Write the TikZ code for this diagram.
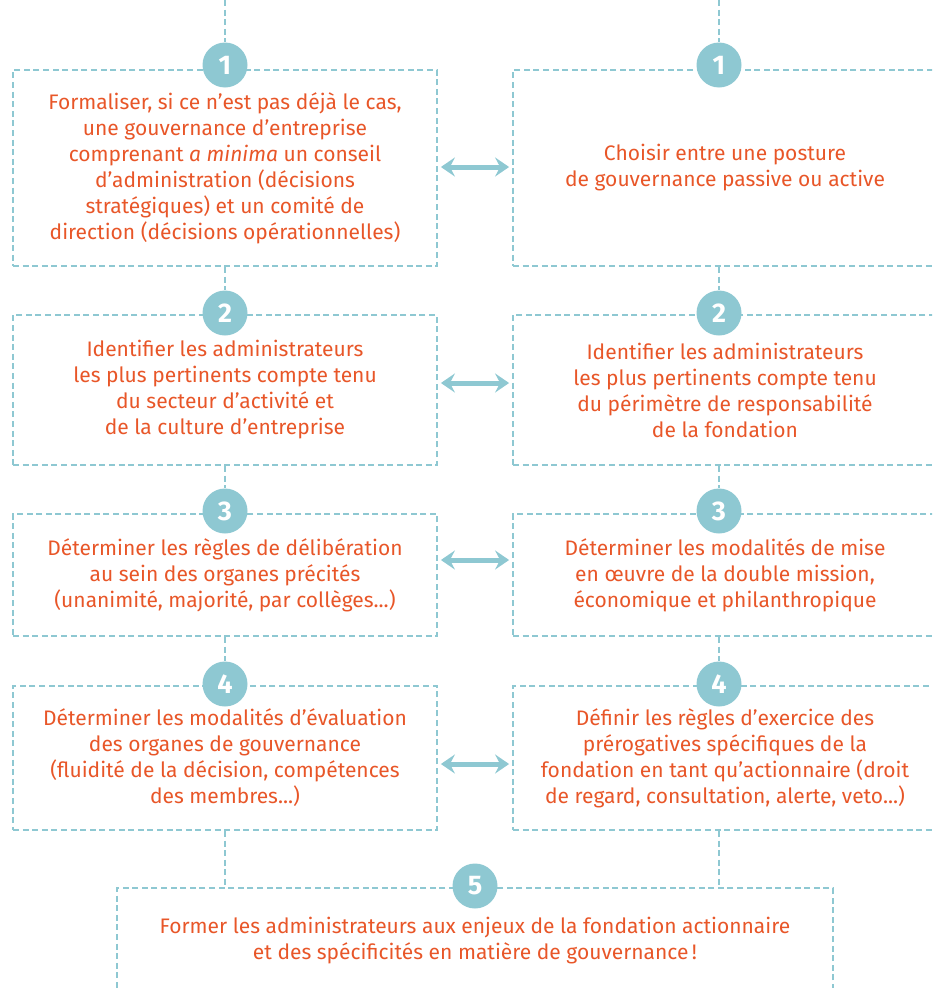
\documentclass[tikz,border=0pt]{standalone}
\usepackage{fontspec}
\setmainfont{Fira Sans}
\usetikzlibrary{arrows.meta}
\definecolor{teal}{RGB}{142,200,210}
\definecolor{orng}{RGB}{232,86,40}
\tikzset{
  box/.style={draw=teal, line width=1.8pt, dash pattern=on 6pt off 3.6pt, rectangle, inner sep=0pt,
    text=orng, align=center, font=\fontsize{21}{26}\selectfont},
  badge/.style={circle, fill=teal, minimum size=45pt, inner sep=0pt, text=white,
    font=\fontsize{27}{27}\selectfont\bfseries},
  link/.style={draw=teal, line width=1.8pt, dash pattern=on 6pt off 3.6pt},
  dblarrow/.style={draw=teal, line width=5pt,
    {Stealth[length=14pt,width=19pt,inset=5pt]}-{Stealth[length=14pt,width=19pt,inset=5pt]}}
}
\begin{document}
\begin{tikzpicture}[x=1pt,y=-1pt]
\useasboundingbox (0,0) rectangle (932,988);
\clip (0,0) rectangle (932,988);
% boxes
\node[box, minimum width=424pt, minimum height=196pt] (L1) at (225,168) {Formaliser, si ce n’est pas déjà le cas,\\une gouvernance d’entreprise\\comprenant \textit{a minima} un conseil\\d’administration (décisions\\stratégiques) et un comité de\\direction (décisions opérationnelles)};
\node[box, minimum width=424pt, minimum height=196pt] (R1) at (725,168) {Choisir entre une posture\\de gouvernance passive ou active};
\node[box, minimum width=424pt, minimum height=150pt] (L2) at (225,390) {Identifier les administrateurs\\les plus pertinents compte tenu\\du secteur d’activité et\\de la culture d’entreprise};
\node[box, minimum width=424pt, minimum height=150pt] (R2) at (725,390) {Identifier les administrateurs\\les plus pertinents compte tenu\\du périmètre de responsabilité\\de la fondation};
\node[box, minimum width=424pt, minimum height=122pt] (L3) at (225,575) {Déterminer les règles de délibération\\au sein des organes précités\\(unanimité, majorité, par collèges...)};
\node[box, minimum width=424pt, minimum height=122pt] (R3) at (725,575) {Déterminer les modalités de mise\\en œuvre de la double mission,\\économique et philanthropique};
\node[box, minimum width=424pt, minimum height=144pt] (L4) at (225,758) {Déterminer les modalités d’évaluation\\des organes de gouvernance\\(fluidité de la décision, compétences\\des membres...)};
\node[box, minimum width=424pt, minimum height=144pt] (R4) at (725,758) {Définir les règles d’exercice des\\prérogatives spécifiques de la\\fondation en tant qu’actionnaire (droit\\de regard, consultation, alerte, veto...)};
\node[box, minimum width=716pt, minimum height=106pt] (B5) at (475,941) {Former les administrateurs aux enjeux de la fondation actionnaire\\et des spécificités en matière de gouvernance\,!};
% connectors
\coordinate (topL) at (225,0);
\coordinate (topR) at (719,0);
\coordinate (b5L) at (225,888);
\coordinate (b5R) at (719,888);
\node[badge] (nL1) at (225,65) {1};
\node[badge] (nR1) at (719,65) {1};
\node[badge] (nL2) at (225,313) {2};
\node[badge] (nR2) at (719,313) {2};
\node[badge] (nL3) at (225,511) {3};
\node[badge] (nR3) at (719,511) {3};
\node[badge] (nL4) at (225,684) {4};
\node[badge] (nR4) at (719,684) {4};
\node[badge] (n5) at (475,886) {5};
\draw[link] (topL) -- (nL1.north);
\draw[link] (topR) -- (nR1.north);
\draw[link] (L1.south -| nL2) -- (nL2.north);
\draw[link] (R1.south -| nR2) -- (nR2.north);
\draw[link] (L2.south -| nL3) -- (nL3.north);
\draw[link] (R2.south -| nR3) -- (nR3.north);
\draw[link] (L3.south -| nL4) -- (nL4.north);
\draw[link] (R3.south -| nR4) -- (nR4.north);
\draw[link] (L4.south -| b5L) -- (b5L);
\draw[link] (R4.south -| b5R) -- (b5R);
% double arrows
\draw[dblarrow] ([xshift=3pt,yshift=1pt]L1.east) -- ([xshift=-3pt,yshift=1pt]R1.west);
\draw[dblarrow] ([xshift=3pt,yshift=7pt]L2.east) -- ([xshift=-3pt,yshift=7pt]R2.west);
\draw[dblarrow] ([xshift=3pt,yshift=15pt]L3.east) -- ([xshift=-3pt,yshift=15pt]R3.west);
\draw[dblarrow] ([xshift=3pt,yshift=-6pt]L4.east) -- ([xshift=-3pt,yshift=-6pt]R4.west);
\end{tikzpicture}
\end{document}
